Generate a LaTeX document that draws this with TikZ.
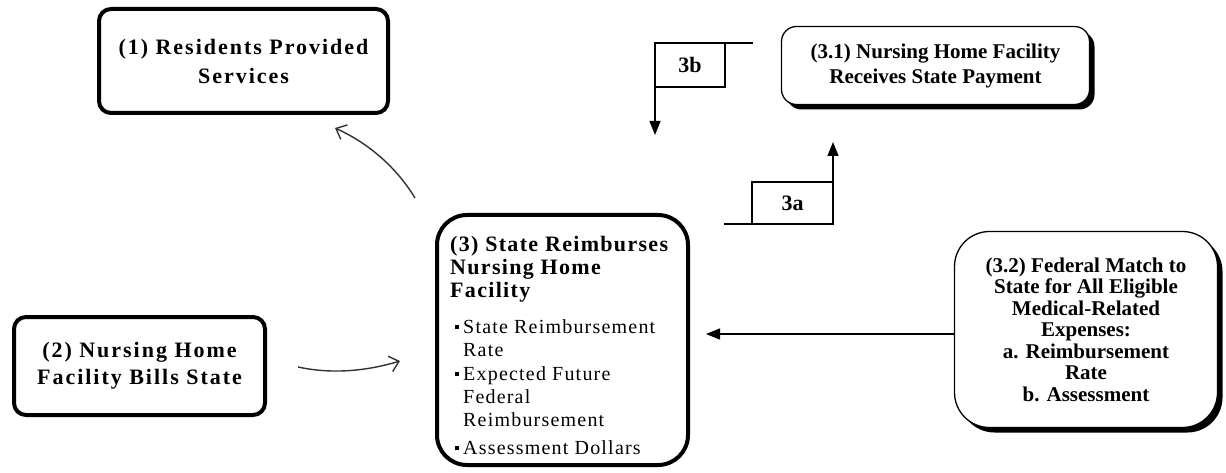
\documentclass[tikz,border=0pt]{standalone}
\usepackage{fontspec}
\setmainfont{Liberation Serif}
\newfontfamily\pixfont[LetterSpace=6]{Liberation Serif}
\newfontfamily\pixwide[LetterSpace=9]{Liberation Serif}
\usetikzlibrary{arrows.meta,shadows}
\newcommand{\sqbul}{\hspace*{5pt}\raisebox{4pt}{\rule{4pt}{4pt}}\hspace*{4pt}}
\newcommand{\hangpad}{\hspace*{13pt}}
\newcommand{\headline}{\pixfont\bfseries\fontsize{22}{24}\selectfont}

\begin{document}
\begin{tikzpicture}[x=1pt,y=-1pt,>={Triangle[length=14pt,width=11pt]},
    heavy box/.style={draw,line width=4pt,rounded corners=12pt,align=center,inner sep=0pt,
        font=\pixwide\bfseries\fontsize{22}{29}\selectfont},
    shade box/.style={draw,fill=white,line width=1.3pt,rounded corners=15pt,align=center,inner sep=0pt,
        drop shadow={shadow xshift=5pt,shadow yshift=-5pt,fill=black,opacity=1},
        font=\bfseries\fontsize{21}{25}\selectfont},
    tag box/.style={draw,line width=1.3pt,inner sep=0pt,outer sep=0pt,font=\bfseries\fontsize{22}{22}\selectfont},
    hand arrow/.style={draw=black!80,line width=1.4pt,-{Straight Barb[length=9pt,width=16pt]}}]

  \useasboundingbox (0,0) rectangle (1226,473);

  \node[heavy box,minimum width=289pt,minimum height=104pt] (residents) at (243.5,61) {(1) Residents Provided\\Services};
  \node[heavy box,minimum width=251pt,minimum height=98pt,font=\pixwide\bfseries\fontsize{22}{27}\selectfont] (bills) at (139.5,366) {(2) Nursing Home\\Facility Bills State};
  \node[heavy box,rounded corners=30pt,minimum width=251pt,minimum height=250pt] (reimburse) at (562.5,340) {};
  \node[anchor=north west,align=left,inner sep=0pt,font=\pixfont\fontsize{20}{23}\selectfont] (reimbursetext) at (450,236)
    {{\headline (3) State Reimburses}\\
     {\headline Nursing Home}\\
     {\headline Facility}\\[13pt]
     \sqbul State Reimbursement\\ \hangpad Rate\\[1pt]
     \sqbul Expected Future\\ \hangpad Federal\\ \hangpad Reimbursement\\[5pt]
     \sqbul Assessment Dollars};

  \node[shade box,minimum width=308pt,minimum height=78pt] (payment) at (935.5,65.5) {(3.1) Nursing Home Facility\\Receives State Payment};
  \node[shade box,rounded corners=35pt,minimum width=263pt,minimum height=196pt,font=\bfseries\fontsize{21}{21.5}\selectfont] (federal) at (1086,329.5)
    {(3.2) Federal Match to\\State for All Eligible\\Medical-Related\\Expenses:\\a. Reimbursement\\Rate\\b. Assessment};

  \node[tag box,minimum width=81pt,minimum height=42pt] (tag3a) at (792.5,203) {3a};
  \node[tag box,minimum width=70pt,minimum height=44pt] (tag3b) at (690,65) {3b};

  \coordinate (feed3a) at (724,224);
  \coordinate (tip3a) at (833,142);
  \coordinate (feed3b) at (753,43);
  \coordinate (tip3b) at (655,135);
  \coordinate (billfrom) at (298,367);
  \coordinate (billto) at (400,361);
  \coordinate (servfrom) at (415,198);
  \coordinate (servto) at (335,128);

  \draw[line width=1.3pt] (feed3a) -- (tag3a.south west);
  \draw[line width=1.3pt,->] (tag3a.south east) -- (tip3a);
  \draw[line width=1.3pt] (feed3b) -- (tag3b.north east);
  \draw[line width=1.3pt,->] (tag3b.north west) -- (tip3b);
  \draw[line width=1.3pt,->,shorten >=16pt] ([yshift=-4.5pt]federal.west) -- ([yshift=-4.5pt]federal.west -| reimburse.east);

  \draw[hand arrow] (billfrom) .. controls (335,375) and (370,370) .. (billto);
  \draw[hand arrow] (servfrom) .. controls (398,170) and (372,145) .. (servto);
\end{tikzpicture}
\end{document}
